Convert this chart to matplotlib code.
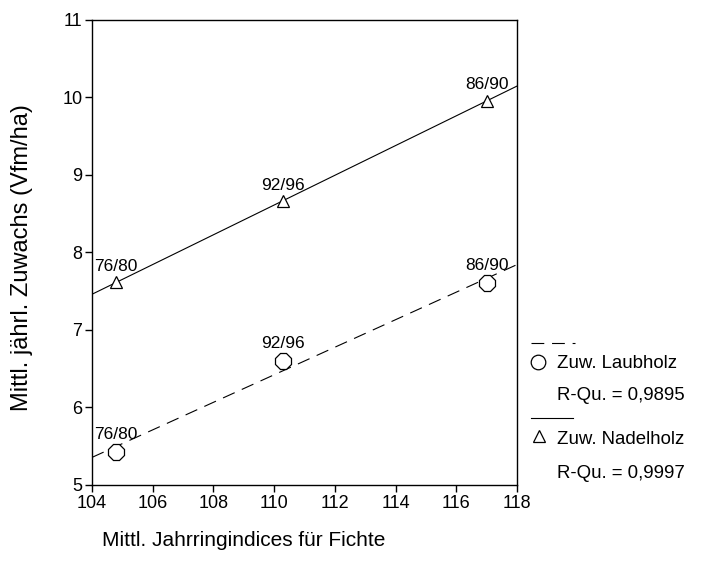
import numpy as np
import matplotlib
matplotlib.use("Agg")
import matplotlib.pyplot as plt
from matplotlib.lines import Line2D

plt.rcParams['font.family'] = ['Liberation Sans', 'DejaVu Sans']

# Mean ring-width index for spruce vs. mean annual increment
periods = ["76/80", "92/96", "86/90"]
index_laub = [104.8, 110.3, 117.0]
zuw_laub = [5.43, 6.60, 7.61]
index_nadel = [104.8, 110.3, 117.0]
zuw_nadel = [7.62, 8.66, 9.96]
r2_laub = "0,9895"
r2_nadel = "0,9997"
xticks = [104, 106, 108, 110, 112, 114, 116, 118]
yticks = [5, 6, 7, 8, 9, 10, 11]

fig = plt.figure(figsize=(7.02, 5.76), dpi=100)
ax = fig.add_axes([92/702, 1-485/576, (517-92)/702, (485-20)/576])
ax.set_xlim(104, 118)
ax.set_ylim(5, 11)

xs = np.array([104, 118])
dash = (0, (11.5, 7.0))
# linear fits over the full x range
k, d = np.polyfit(index_laub, zuw_laub, 1)
ax.plot(xs, k*xs + d, color='black', lw=0.8, linestyle=dash)
k, d = np.polyfit(index_nadel, zuw_nadel, 1)
ax.plot(xs, k*xs + d, color='black', lw=0.8)

ax.plot(index_laub, zuw_laub, linestyle='none', marker='8', ms=12,
        mfc='white', mec='black', mew=0.9, zorder=3)
ax.plot(index_nadel, zuw_nadel, linestyle='none', marker='^', ms=9,
        mfc='white', mec='black', mew=0.9, zorder=3)

for xv, yv, lab in zip(index_laub, zuw_laub, periods):
    ax.annotate(lab, (xv, yv), xytext=(0, 7), textcoords='offset points',
                ha='center', va='bottom', fontsize=12.5)
for xv, yv, lab in zip(index_nadel, zuw_nadel, periods):
    ax.annotate(lab, (xv, yv), xytext=(0, 6), textcoords='offset points',
                ha='center', va='bottom', fontsize=12.5)

ax.set_xticks(xticks)
ax.set_yticks(yticks)
ax.tick_params(direction='out', length=5, width=1.0, labelsize=13, pad=2,
               top=False, right=False)
for s in ax.spines.values():
    s.set_linewidth(1.0)

fig.text(22/702, 1-258/576, "Mittl. jährl. Zuwachs (Vfm/ha)", rotation=90,
         ha='center', va='center', fontsize=17)
fig.text(102/702, 1-540/576, "Mittl. Jahrringindices für Fichte",
         ha='left', va='center', fontsize=15)

# legend block at the right
lg = fig.add_axes([0, 0, 1, 1], zorder=-1)
lg.set_xlim(0, 702)
lg.set_ylim(576, 0)
lg.axis('off')
lg.add_line(Line2D([531, 575], [343, 343], color='black', lw=0.8, linestyle=dash))
lg.plot([538], [362], marker='o', ms=10.5, mfc='white', mec='black', mew=0.9)
lg.text(557, 363, "Zuw. Laubholz", fontsize=13.4, va='center', ha='left')
lg.text(557, 395, "R-Qu. = " + r2_laub, fontsize=13.4, va='center', ha='left')
lg.add_line(Line2D([531, 573], [418, 418], color='black', lw=0.8))
lg.plot([539], [436], marker='^', ms=8, mfc='white', mec='black', mew=0.9)
lg.text(557, 440, "Zuw. Nadelholz", fontsize=13.4, va='center', ha='left')
lg.text(557, 473, "R-Qu. = " + r2_nadel, fontsize=13.4, va='center', ha='left')

fig.savefig("out.png", dpi=100)
